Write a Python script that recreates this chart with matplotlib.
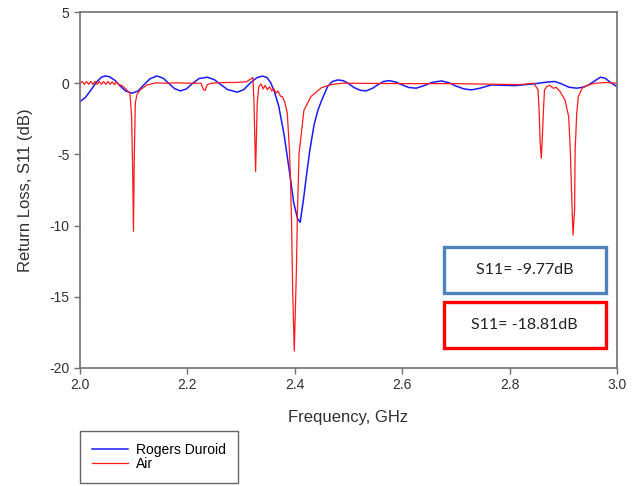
import matplotlib
matplotlib.use("Agg")
import matplotlib.pyplot as plt
from matplotlib.patches import Rectangle
import numpy as np

plt.rcParams['font.family'] = ['Liberation Sans', 'DejaVu Sans']
plt.rcParams['axes.unicode_minus'] = False

# Rogers Duroid substrate, S11 vs frequency (GHz, dB)
freq_duroid = [2.000, 2.010, 2.020, 2.030, 2.040, 2.047, 2.055, 2.065, 2.075, 2.085,
               2.097, 2.108, 2.118, 2.130, 2.143, 2.155, 2.165, 2.176, 2.187, 2.198,
               2.210, 2.222, 2.237, 2.250, 2.262, 2.275, 2.293, 2.305, 2.318, 2.330,
               2.340, 2.348, 2.355, 2.362, 2.370, 2.380, 2.390, 2.398, 2.405, 2.410,
               2.416, 2.422, 2.428, 2.436, 2.443, 2.450, 2.461, 2.470, 2.480, 2.490,
               2.500, 2.510, 2.522, 2.533, 2.545, 2.555, 2.565, 2.576, 2.588, 2.600,
               2.612, 2.626, 2.640, 2.655, 2.673, 2.688, 2.700, 2.715, 2.729, 2.745,
               2.766, 2.790, 2.810, 2.830, 2.850, 2.870, 2.884, 2.897, 2.910, 2.925,
               2.937, 2.947, 2.958, 2.969, 2.978, 2.988, 3.000]
s11_duroid = [-1.29, -1.00, -0.50, 0.05, 0.42, 0.51, 0.45, 0.20, -0.20, -0.55,
              -0.70, -0.55, -0.15, 0.30, 0.51, 0.35, 0.00, -0.38, -0.54, -0.40,
              0.00, 0.33, 0.42, 0.25, -0.10, -0.45, -0.63, -0.45, 0.05, 0.40,
              0.50, 0.40, 0.05, -0.60, -1.60, -3.60, -6.20, -8.40, -9.50, -9.77,
              -8.20, -6.40, -4.70, -2.90, -1.90, -1.20, -0.24, 0.12, 0.23, 0.18,
              -0.02, -0.30, -0.50, -0.54, -0.35, -0.10, 0.12, 0.18, 0.08, -0.12,
              -0.30, -0.35, -0.18, 0.05, 0.16, 0.02, -0.20, -0.40, -0.47, -0.35,
              -0.12, -0.15, -0.17, -0.10, -0.02, 0.08, 0.12, -0.05, -0.28, -0.35,
              -0.28, -0.12, 0.15, 0.42, 0.35, 0.05, -0.24]

# air substrate
freq_air = [2.000, 2.004, 2.008, 2.012, 2.016, 2.020, 2.024, 2.028, 2.032, 2.036,
            2.040, 2.044, 2.048, 2.052, 2.056, 2.060, 2.064, 2.068, 2.072, 2.078,
            2.087, 2.093, 2.096, 2.098, 2.0996, 2.101, 2.103, 2.106, 2.112, 2.125,
            2.140, 2.160, 2.180, 2.200, 2.225, 2.230, 2.233, 2.237, 2.245, 2.270,
            2.290, 2.310, 2.318, 2.322, 2.324, 2.327, 2.330, 2.333, 2.337, 2.341,
            2.345, 2.349, 2.353, 2.357, 2.361, 2.365, 2.369, 2.373, 2.377, 2.381,
            2.386, 2.390, 2.392, 2.394, 2.396, 2.399, 2.403, 2.405, 2.408, 2.417,
            2.430, 2.449, 2.467, 2.490, 2.600, 2.700, 2.820, 2.845, 2.853, 2.855,
            2.857, 2.859, 2.861, 2.863, 2.865, 2.869, 2.875, 2.881, 2.887, 2.894,
            2.903, 2.910, 2.913, 2.916, 2.918, 2.921, 2.922, 2.925, 2.928, 2.935,
            2.947, 2.960, 2.980, 3.000]
s11_air = [0.00, 0.12, -0.08, 0.12, -0.08, 0.12, -0.08, 0.12, -0.08, 0.12,
           -0.08, 0.12, -0.08, 0.12, -0.08, 0.10, -0.10, 0.08, -0.10, -0.15,
           -0.47, -0.70, -2.30, -5.90, -10.40, -5.40, -1.40, -0.80, -0.47, -0.12,
           0.02, 0.00, 0.03, 0.00, 0.00, -0.45, -0.50, -0.10, 0.00, 0.05,
           0.05, 0.10, 0.30, 0.40, -1.40, -6.20, -1.40, -0.24, -0.05, -0.40,
           -0.15, -0.45, -0.25, -0.55, -0.40, -0.70, -0.55, -0.90, -0.95, -1.30,
           -2.10, -4.70, -6.80, -9.80, -14.50, -18.81, -13.10, -8.90, -4.90, -1.90,
           -0.94, -0.33, -0.10, 0.00, -0.03, -0.03, -0.10, 0.00, -0.47, -2.00,
           -4.20, -5.27, -3.75, -1.90, -0.47, -0.24, -0.15, -0.35, -0.30, -0.59,
           -1.17, -2.35, -4.70, -8.40, -10.67, -8.90, -4.70, -2.10, -0.94, -0.35,
           -0.12, 0.00, 0.05, 0.00]

min_duroid = "S11= -9.77dB"
min_air = "S11= -18.81dB"

fig = plt.figure(figsize=(6.39, 4.86), dpi=100)
ax = fig.add_axes([0.1252, 0.2428, 0.8404, 0.7325])

ax.plot(freq_duroid, s11_duroid, color='#1a1aff', lw=1.1, label='Rogers Duroid')
ax.plot(freq_air, s11_air, color='#ff1a1a', lw=0.9, label='Air')

ax.set_xlim(2.0, 3.0)
ax.set_ylim(-20, 5)
ax.set_xticks(np.arange(2.0, 3.01, 0.2))
ax.set_xticklabels(['2.0', '2.2', '2.4', '2.6', '2.8', '3.0'])
ax.set_yticks(range(-20, 6, 5))
for s in ax.spines.values():
    s.set_color('#707070')
    s.set_linewidth(1.2)
ax.tick_params(direction='out', length=4, width=1.0, color='#707070',
               labelsize=10, labelcolor='#303030')
ax.set_xlabel('Frequency, GHz', fontsize=12, color='#303030', labelpad=13)
ax.set_ylabel('Return Loss, S11 (dB)', fontsize=12, color='#303030', labelpad=12)

# boxes with the minimum values
for y0, edge, txt in [(-14.7, '#4f81bd', min_duroid), (-18.57, '#ff0000', min_air)]:
    ax.add_patch(Rectangle((2.677, y0), 0.302, 3.2, facecolor='white',
                           edgecolor=edge, lw=2.4, zorder=5))
    ax.text(2.828, y0 + 1.6, txt, ha='center', va='center', fontsize=11.5,
            family=['Lato', 'DejaVu Sans'], color='#222222', zorder=6)

leg = fig.legend(loc='upper left', bbox_to_anchor=(0.1252, 0.113), fontsize=10,
                 frameon=True, fancybox=False, handlelength=2.6,
                 borderpad=0.85, labelspacing=0.0, handletextpad=0.6,
                 borderaxespad=0.0)
leg.get_frame().set_edgecolor('#404040')
leg.get_frame().set_linewidth(1.0)

fig.savefig('out.png', dpi=100)
